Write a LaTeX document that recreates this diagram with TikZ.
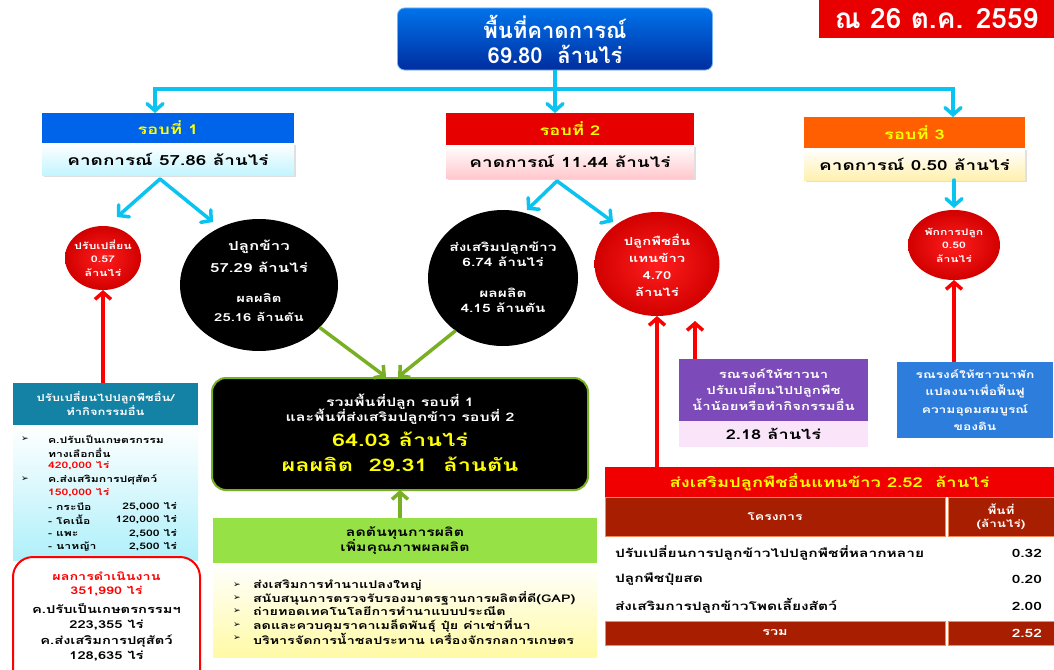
\documentclass[tikz,border=0pt]{standalone}
\usepackage{fontspec}
\setmainfont[Script=Thai, FakeStretch=1.35]{Loma}
\newfontfamily\plainthai[Script=Thai]{Loma}
\newfontfamily\symfont{DejaVu Sans}
\usetikzlibrary{arrows.meta,shapes.geometric,shadows}

\newcommand{\fsz}[2]{\fontsize{#1}{#2}\selectfont}
\newcommand{\bul}{{\symfont\fsz{9}{10}➢}}

% palette
\definecolor{skyline}{RGB}{10,195,240}
\definecolor{arrowred}{RGB}{250,0,0}
\definecolor{arrowgreen}{RGB}{120,175,35}
\definecolor{datered}{RGB}{232,0,0}
\definecolor{topblueA}{RGB}{0,115,235}
\definecolor{topblueB}{RGB}{0,45,160}
\definecolor{roundblue}{RGB}{0,100,235}
\definecolor{roundred}{RGB}{230,0,0}
\definecolor{roundorange}{RGB}{255,95,0}
\definecolor{paleblue}{RGB}{195,245,255}
\definecolor{palepink}{RGB}{255,200,205}
\definecolor{paleyellow}{RGB}{255,240,175}
\definecolor{labelyellow}{RGB}{255,255,0}
\definecolor{tealhead}{RGB}{20,130,165}
\definecolor{listcyan}{RGB}{175,240,250}
\definecolor{listyellow}{RGB}{255,250,165}
\definecolor{leafgreen}{RGB}{150,225,70}
\definecolor{campaignviolet}{RGB}{125,75,185}
\definecolor{palemauve}{RGB}{250,228,250}
\definecolor{campaignblue}{RGB}{45,125,220}
\definecolor{tablered}{RGB}{168,30,0}
\definecolor{tableedge}{RGB}{240,140,90}
\definecolor{bannerred}{RGB}{240,0,0}
\definecolor{ballred}{RGB}{255,30,30}
\definecolor{ballrim}{RGB}{210,0,0}

\tikzset{
  every node/.style={inner sep=0pt, outer sep=0pt, align=center},
  topbox/.style={rectangle, rounded corners=7pt, top color=topblueA, bottom color=topblueB,
    draw=topblueA!55!white, line width=0.8pt, text=white, font=\plainthai\bfseries\fsz{22}{25}},
  roundhead/.style={rectangle, text=labelyellow, font=\bfseries\fsz{13.5}{16}},
  roundsub/.style={rectangle, top color=white, font=\bfseries\fsz{14}{16},
    drop shadow={opacity=0.25, shadow xshift=1.5pt, shadow yshift=-1.5pt}},
  ball/.style={ellipse, inner color=ballred, outer color=ballrim},
  blackball/.style={ellipse, fill=black},
  balltext/.style={text=white, font=\bfseries},
  skyarrow/.style={draw=skyline, line width=3.5pt, line cap=round,
    -{Straight Barb[length=7pt,width=16pt,line cap=round]}},
  redarrow/.style={draw=arrowred, line width=3.5pt,
    -{Straight Barb[length=7pt,width=16pt]}},
  greenarrow/.style={draw=arrowgreen, line width=3.5pt,
    -{Straight Barb[length=7pt,width=16pt]}},
  listline/.style={anchor=west, font=\bfseries\fsz{9}{11}},
  cell/.style={rectangle, fill=tablered, draw=tableedge, line width=0.6pt, text=white},
  rowtext/.style={font=\bfseries\fsz{11.5}{13}},
}

\begin{document}
\begin{tikzpicture}[x=1pt,y=-1pt]
\clip (0,0) rectangle (1054,669);
\fill[white] (0,0) rectangle (1054,669);

% ---------- date and total area ----------
\node[fill=datered, text=white, minimum width=235pt, minimum height=38pt,
      font=\plainthai\bfseries\fsz{28}{30}] (date) at (936.5,19) {ณ 26 ต.ค. 2559};
\node[topbox, minimum width=315pt, minimum height=62pt] (top) at (555,39)
      {พื้นที่คาดการณ์\\69.80\ \ ล้านไร่};

% ---------- three rounds ----------
\node[roundhead, fill=roundblue, minimum width=252pt, minimum height=30pt] (r1h) at (168,128) {รอบที่ 1};
\node[roundsub, bottom color=paleblue, minimum width=252pt, minimum height=32pt] (r1s) at (168,159) {คาดการณ์ 57.86 ล้านไร่};
\node[roundhead, fill=roundred, minimum width=248pt, minimum height=32pt] (r2h) at (570,129) {รอบที่ 2};
\node[roundsub, bottom color=palepink, minimum width=248pt, minimum height=33pt] (r2s) at (570,161.5) {คาดการณ์ 11.44 ล้านไร่};
\node[roundhead, fill=roundorange, minimum width=221pt, minimum height=31pt] (r3h) at (914.5,132.5) {รอบที่ 3};
\node[roundsub, bottom color=paleyellow, minimum width=221pt, minimum height=32pt] (r3s) at (914.5,164) {คาดการณ์ 0.50 ล้านไร่};

% distribution bus from the total area
\coordinate (busL) at (155,89);
\coordinate (busR) at (953,89);
\draw[draw=skyline, line width=3.5pt] (top.south) -- (top.south |- busL);
\draw[draw=skyline, line width=3.5pt, line cap=rect] (busL) -- (busR);
\draw[skyarrow] (busL) -- (busL |- r1h.north);
\draw[skyarrow] (top.south |- busL) -- (top.south |- r2h.north);
\draw[skyarrow] (busR) -- (busR |- r3h.north);

% ---------- outcome ellipses ----------
\node[ball, minimum width=76pt, minimum height=64pt] (c1a) at (103,258) {};
\node[balltext, font=\bfseries\fsz{9.2}{13.5}] at (c1a) {ปรับเปลี่ยน\\0.57\\ล้านไร่};
\node[blackball, minimum width=158pt, minimum height=132pt] (c1b) at (259,285) {};
\node[balltext, font=\bfseries\fsz{12.5}{22}] at ([yshift=29pt]c1b.center) {ปลูกข้าว\\57.29 ล้านไร่};
\node[balltext, font=\bfseries\fsz{11}{19}] at ([yshift=-22.5pt]c1b.center) {ผลผลิต\\25.16 ล้านตัน};
\node[blackball, minimum width=150pt, minimum height=136pt] (c2a) at (503,278) {};
\node[balltext, font=\bfseries\fsz{11.5}{15}] at ([yshift=23.5pt]c2a.center) {ส่งเสริมปลูกข้าว\\6.74 ล้านไร่};
\node[balltext, font=\bfseries\fsz{11.5}{15}] at ([yshift=-22.5pt]c2a.center) {ผลผลิต\\4.15 ล้านตัน};
\node[ball, minimum width=125pt, minimum height=104pt] (c2b) at (657,264) {};
\node[balltext, font=\bfseries\fsz{11}{17}] at ([yshift=-1pt]c2b.center) {ปลูกพืชอื่น\\แทนข้าว\\4.70\\ล้านไร่};
\node[ball, minimum width=92pt, minimum height=70pt] (c3) at (954,245) {};
\node[balltext, font=\bfseries\fsz{9}{13.5}] at (c3) {พักการปลูก\\0.50\\ล้านไร่};

% branches of round 1 and round 2
\coordinate (t1a) at (117,217);
\coordinate (t1b) at (213,222);
\coordinate (t2a) at (527,210);
\coordinate (t2b) at (613,222);
\draw[skyarrow] ([shift={(-8pt,-4pt)}]r1s.south) -- (t1a);
\draw[skyarrow] ([shift={(-8pt,-4pt)}]r1s.south) -- (t1b);
\draw[skyarrow] ([shift={(-13pt,-3pt)}]r2s.south) -- (t2a);
\draw[skyarrow] ([shift={(-13pt,-3pt)}]r2s.south) -- (t2b);
\draw[skyarrow] (r3s.south -| c3) -- ([yshift=2pt]c3.north);

% ---------- combined production ----------
\node[rectangle, rounded corners=14pt, fill=black, draw=arrowgreen, line width=2pt,
      minimum width=376pt, minimum height=112pt] (sum) at (400,434) {};
\node[text=white, font=\bfseries\fsz{11.8}{15.5}] at (400,409)
      {รวมพื้นที่ปลูก รอบที่ 1\\และพื้นที่ส่งเสริมปลูกข้าว รอบที่ 2};
\node[text=labelyellow, font=\bfseries\fsz{17.4}{25}] at (400,452)
      {64.03 ล้านไร่\\ผลผลิต\ \ 29.31\ \ ล้านตัน};
\coordinate (g1) at (386,377);
\coordinate (g2) at (398,377);
\draw[greenarrow] (c1b.-35) -- (g1);
\draw[greenarrow] (c2a.228) -- (g2);

% cost reduction measures
\node[rectangle, fill=leafgreen, minimum width=384pt, minimum height=45pt,
      font=\bfseries\fsz{11.7}{15.5}] (cost) at (405,540.5) {ลดต้นทุนการผลิต\\เพิ่มคุณภาพผลผลิต};
\node[rectangle, top color=white, bottom color=listyellow, minimum width=384pt,
      minimum height=94pt] (costlist) at (405,610) {};
\draw[greenarrow] (cost.north -| sum.south) -- (sum.south);
\foreach \yy/\txt in {585/ส่งเสริมการทำนาแปลงใหญ่,
                      598/สนับสนุนการตรวจรับรองมาตรฐานการผลิตที่ดี(GAP),
                      611.5/ถ่ายทอดเทคโนโลยีการทำนาแบบประณีต,
                      625/ลดและควบคุมราคาเมล็ดพันธุ์ ปุ๋ย ค่าเช่าที่นา,
                      638.5/บริหารจัดการน้ำชลประทาน เครื่องจักรกลการเกษตร}{
  \node[anchor=west] at (233,\yy) {\bul};
  \node[listline, font=\bfseries\fsz{10.6}{12}] at (253,\yy) {\txt};
}

% ---------- left column: conversion of round 1 ----------
\node[rectangle, fill=tealhead, text=white, minimum width=185pt, minimum height=42pt,
      font=\bfseries\fsz{9.6}{14}] (lhead) at (105.5,404) {ปรับเปลี่ยนไปปลูกพืชอื่น/\\ทำกิจกรรมอื่น};
\node[rectangle, top color=white, bottom color=listcyan, minimum width=185pt,
      minimum height=135pt] (llist) at (105.5,492.5) {};
\draw[redarrow] (lhead.north -| c1a) -- (c1a.south);
\node[anchor=west] at (21,439) {\bul};
\node[listline] at (48,439) {ค.ปรับเป็นเกษตรกรรม};
\node[listline] at (48,452.5) {ทางเลือกอื่น};
\node[listline, text=red] at (48,466) {420,000 ไร่};
\node[anchor=west] at (21,479.5) {\bul};
\node[listline] at (48,479.5) {ค.ส่งเสริมการปศุสัตว์};
\node[listline, text=red] at (48,493) {150,000 ไร่};
\foreach \yy/\kind/\area in {507/กระบือ/{25,000}, 520/โคเนื้อ/{120,000},
                             533.5/แพะ/{2,500}, 547/นาหญ้า/{2,500}}{
  \node[listline] at (48,\yy) {- \kind};
  \node[listline, anchor=east] at (177,\yy) {\area\ ไร่};
}
\node[rectangle, rounded corners=20pt, draw=red, line width=2pt, fill=white,
      minimum width=187pt, minimum height=140pt] (result) at (106.5,627) {};
\node[text=red, font=\bfseries\fsz{10.6}{13.5}] at (106.5,584) {ผลการดำเนินงาน\\351,990\ ไร่};
\node[font=\bfseries\fsz{10.9}{15.5}] at (106.5,632) {ค.ปรับเป็นเกษตรกรรมฯ\\223,355 ไร่\\ค.ส่งเสริมการปศุสัตว์\\128,635\ ไร่};

% ---------- campaign boxes ----------
\node[rectangle, fill=campaignviolet, text=white, minimum width=189pt, minimum height=62pt,
      font=\bfseries\fsz{11}{16}] (pbox) at (773.5,390)
      {รณรงค์ให้ชาวนา\\ปรับเปลี่ยนไปปลูกพืช\\น้ำน้อยหรือทำกิจกรรมอื่น};
\node[rectangle, fill=palemauve, minimum width=189pt, minimum height=26pt,
      font=\bfseries\fsz{13.5}{15}] (pval) at (773.5,434) {2.18 ล้านไร่};
\node[rectangle, fill=campaignblue, text=white, minimum width=156pt, minimum height=76pt,
      font=\bfseries\fsz{10.2}{17.5}] (bbox) at (975,400)
      {รณรงค์ให้ชาวนาพัก\\แปลงนาเพื่อฟื้นฟู\\ความอุดมสมบูรณ์\\ของดิน};
\coordinate (t2c) at (695,321);
\draw[redarrow] (pbox.north -| t2c) -- (t2c);
\draw[redarrow] (bbox.north -| c3) -- (c3.south);

% ---------- replacement crops table ----------
\node[rectangle, fill=bannerred, text=labelyellow, minimum width=449pt, minimum height=30pt,
      font=\bfseries\fsz{13.6}{16}] (tabh) at (829.5,482) {ส่งเสริมปลูกพืชอื่นแทนข้าว 2.52\ \ ล้านไร่};
\draw[redarrow] (tabh.north -| c2b) -- (c2b.south);
\node[cell, minimum width=340pt, minimum height=39pt, font=\bfseries\fsz{10.4}{12}] (colA) at (775,516.5) {โครงการ};
\node[cell, minimum width=106pt, minimum height=39pt, font=\bfseries\fsz{10}{13}] (colB) at (1001,516.5) {พื้นที่\\(ล้านไร่)};
\node[rowtext, anchor=west] at (615,553) {ปรับเปลี่ยนการปลูกข้าวไปปลูกพืชที่หลากหลาย};
\node[rowtext, anchor=east] at (1042,553) {0.32};
\node[rowtext, anchor=west] at (615,579) {ปลูกพืชปุ๋ยสด};
\node[rowtext, anchor=east] at (1042,579) {0.20};
\node[rowtext, anchor=west] at (615,606) {ส่งเสริมการปลูกข้าวโพดเลี้ยงสัตว์};
\node[rowtext, anchor=east] at (1042,606) {2.00};
\node[cell, minimum width=340pt, minimum height=24pt, font=\bfseries\fsz{10.7}{13}] (sumA) at (775,633) {รวม};
\node[cell, minimum width=106pt, minimum height=24pt] (sumB) at (1001,633) {};
\node[rowtext, text=white, anchor=east] at (1042,633) {2.52};
\end{tikzpicture}
\end{document}
